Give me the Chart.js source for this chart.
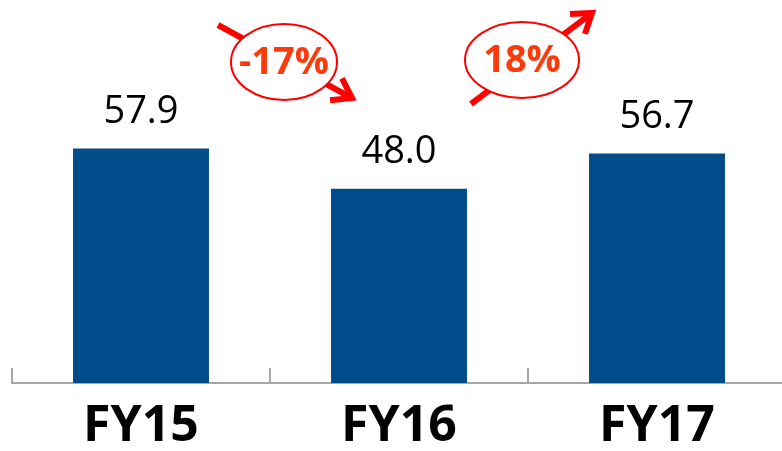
<!DOCTYPE html>
<html>
<head>
<meta charset="utf-8">
<script src="https://cdn.jsdelivr.net/npm/chart.js@4.4.1/dist/chart.umd.min.js"></script>
<style>
  html, body { margin: 0; padding: 0; background: #fff; overflow: hidden; }
  #wrap { width: 786px; height: 471px; position: relative; }
</style>
</head>
<body>
<div id="wrap"><canvas id="revChart"></canvas></div>
<script>
const years = ["FY15", "FY16", "FY17"];
const revenue = [57.9, 48.0, 56.7];

const barColor = "#024C8C";
const axisColor = "#A6A6A6";
const calloutRed = "#FF0000";
const calloutText = "#FF3A0A";

// year-over-year change callouts, placed between neighbouring bars
const callouts = [
  { from: 0, to: 1, dx: 14, cy: 62, rx: 53, ry: 38, tail: [-66, -37], head: [68, 36] },
  { from: 1, to: 2, dx: -6, cy: 60, rx: 57, ry: 38, tail: [-51, 44], head: [70, -47] },
];

function pctChange(a, b) {
  const p = Math.round(((b - a) / a) * 100);
  return p + "%";
}

const valueLabels = {
  id: "valueLabels",
  afterDatasetsDraw(chart) {
    const ctx = chart.ctx;
    const meta = chart.getDatasetMeta(0);
    ctx.save();
    ctx.font = "38px 'Open Sans'";
    ctx.fillStyle = "#000";
    ctx.textAlign = "center";
    ctx.textBaseline = "bottom";
    meta.data.forEach((bar, i) => {
      ctx.fillText(revenue[i].toFixed(1), bar.x, bar.y - 17);
    });
    ctx.restore();
  },
};

// short upward tick marks at category boundaries
const boundaryTicks = {
  id: "boundaryTicks",
  afterDraw(chart) {
    const ctx = chart.ctx;
    const x = chart.scales.x;
    const bottom = chart.chartArea.bottom;
    ctx.save();
    ctx.strokeStyle = axisColor;
    ctx.lineWidth = 2;
    for (let i = 0; i <= years.length; i++) {
      const px = Math.round(x.getPixelForValue(i - 0.5));
      ctx.beginPath();
      ctx.moveTo(px, bottom);
      ctx.lineTo(px, bottom - 15);
      ctx.stroke();
    }
    ctx.restore();
  },
};

function drawArrow(ctx, x1, y1, x2, y2) {
  const ang = Math.atan2(y2 - y1, x2 - x1);
  const len = 22;
  ctx.beginPath();
  ctx.moveTo(x1, y1);
  ctx.lineTo(x2 - Math.cos(ang) * 3, y2 - Math.sin(ang) * 3);
  ctx.stroke();
  ctx.beginPath();
  ctx.moveTo(x2 - len * Math.cos(ang - 0.6), y2 - len * Math.sin(ang - 0.6));
  ctx.lineTo(x2, y2);
  ctx.lineTo(x2 - len * Math.cos(ang + 0.6), y2 - len * Math.sin(ang + 0.6));
  ctx.stroke();
}

const changeCallouts = {
  id: "changeCallouts",
  afterDraw(chart) {
    const ctx = chart.ctx;
    const x = chart.scales.x;
    ctx.save();
    callouts.forEach((c) => {
      const cx = x.getPixelForValue(c.from + 0.5) + c.dx;
      const cy = c.cy;
      ctx.strokeStyle = calloutRed;
      ctx.lineWidth = 6;
      ctx.lineCap = "butt";
      ctx.lineJoin = "miter";
      drawArrow(ctx, cx + c.tail[0], cy + c.tail[1], cx + c.head[0], cy + c.head[1]);

      ctx.beginPath();
      ctx.ellipse(cx, cy, c.rx, c.ry, 0, 0, Math.PI * 2);
      ctx.fillStyle = "#fff";
      ctx.fill();
      ctx.lineWidth = 2;
      ctx.stroke();

      ctx.fillStyle = calloutText;
      ctx.font = "bold 38px 'Open Sans'";
      ctx.textAlign = "center";
      ctx.textBaseline = "middle";
      ctx.fillText(pctChange(revenue[c.from], revenue[c.to]), cx, cy + 1);
    });
    ctx.restore();
  },
};

const ctx = document.getElementById("revChart").getContext("2d");
new Chart(ctx, {
  type: "bar",
  data: {
    labels: years,
    datasets: [
      {
        data: revenue,
        backgroundColor: barColor,
        borderWidth: 0,
        barPercentage: 1,
        categoryPercentage: 0.527,
      },
    ],
  },
  options: {
    responsive: true,
    maintainAspectRatio: false,
    animation: false,
    layout: { padding: { left: 12, right: 0, top: 0, bottom: 0 } },
    plugins: {
      legend: { display: false },
      tooltip: { enabled: false },
    },
    scales: {
      y: {
        display: false,
        min: 0,
        max: 94.6,
      },
      x: {
        grid: { display: false, drawTicks: false },
        border: { display: true, color: axisColor, width: 2 },
        ticks: {
          color: "#000",
          padding: 14,
          font: { family: "'Open Sans'", size: 50, weight: "bold", lineHeight: 1.2 },
        },
      },
    },
  },
  plugins: [valueLabels, boundaryTicks, changeCallouts],
});
</script>
</body>
</html>
